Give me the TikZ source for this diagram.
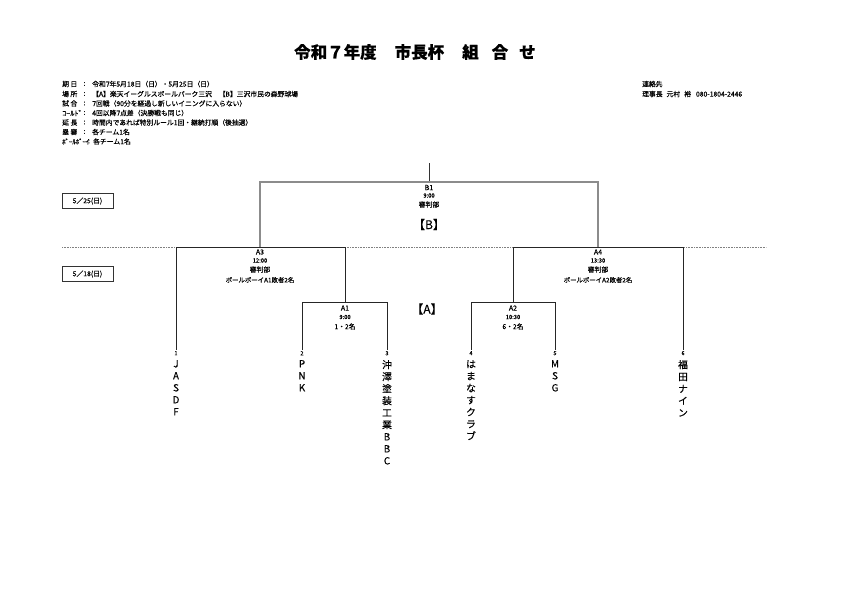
\documentclass[tikz,border=0pt]{standalone}
\usepackage{fontspec}
\setmainfont{Noto Sans CJK JP}[FakeBold=0.3]
\newcommand{\fs}[1]{\fontsize{#1}{#1}\selectfont}
\tikzset{
  txt/.style={inner sep=0pt, text=black},
  info/.style={txt, anchor=west, font=\fs{6.8}},
  colon/.style={txt, font=\fs{6.8}},
  mlabel/.style={txt, font=\fs{7}},
  mtime/.style={txt, font=\fs{5.8}},
  mref/.style={txt, font=\fs{6.8}},
  mball/.style={txt, font=\fs{6.4}},
  venue/.style={txt, font=\fs{12}},
  datebox/.style={draw=black!80, line width=0.6pt, minimum width=51pt, minimum height=15.5pt, inner sep=0pt, font=\fs{6.8}},
  tnum/.style={txt, font=\fs{5.6}, anchor=north},
  tname/.style={txt, anchor=north, align=center, font=\fontsize{9.8}{12}\selectfont},
  bline/.style={draw=black!85, line width=0.8pt},
  gline/.style={draw=black!45, line width=1.3pt},
}
\begin{document}
\begin{tikzpicture}[x=1pt,y=-1pt]
\useasboundingbox[fill=white] (0,0) rectangle (842,595);

% title
\node[txt, anchor=west, font=\fs{16.5}\bfseries] (title) at (294,52)
  {令和７年度\hspace{18pt}市長杯\hspace{18pt}組\hspace{13pt}合\hspace{11pt}せ};

% info block
\node[info] (l1) at (62,84) {期\hspace{1.5pt}日};
\node[info] (l2) at (62,94) {場\hspace{1.5pt}所};
\node[info] (l3) at (62,103.5) {試\hspace{1.5pt}合};
\node[info] (l4) at (62,113) {\scalebox{1.2}[1]{ｺｰﾙﾄﾞ}};
\node[info] (l5) at (62,122.5) {延\hspace{1.5pt}長};
\node[info] (l6) at (62,132) {塁\hspace{1.5pt}審};
\node[info] (l7) at (62,141.5) {ﾎﾞｰﾙﾎﾞｰｲ};
\foreach \y in {84,94,103.5,113,122.5,132}{\node[colon] at (84.5,\y) {:};}
\node[colon] at (89,141.5) {:};
\node[info] (v1) at (92,84) {令和7年5月18日（日）・5月25日（日）};
\node[info] (v2) at (92,94) {【A】楽天イーグルスボールパーク三沢　【B】三沢市民の森野球場};
\node[info] (v3) at (92,103.5) {7回戦（90分を経過し新しいイニングに入らない）};
\node[info] (v4) at (92,113) {4回以降7点差（決勝戦も同じ）};
\node[info] (v5) at (92,122.5) {時間内であれば特別ルール1回・継続打順（後抽選）};
\node[info] (v6) at (92,132) {各チーム1名};
\node[info] (v7) at (93,141.5) {各チーム1名};

% contact
\node[info] (c1) at (642,84) {連絡先};
\node[info] (c2) at (642,94) {理事長\hspace{4pt}元村\hspace{4pt}裕\hspace{5pt}080-1804-2446};

% date boxes
\node[datebox] (d1) at (87.5,201) {5／25(日)};
\node[datebox] (d2) at (87.5,274) {5／18(日)};

% dotted separator
\coordinate (sepL) at (62,247);
\coordinate (sepR) at (766,247);
\draw[black!50, line width=0.6pt, dash pattern=on 0.8pt off 0.8pt] (sepL) -- (sepR);

% bracket coordinates
\coordinate (top) at (429,163);
\coordinate (b1) at (429,182);
\coordinate (b1l) at (260,182);
\coordinate (b1r) at (598,182);
\coordinate (a3) at (260,247);
\coordinate (a4) at (598,247);
\coordinate (a3l) at (176,247);
\coordinate (a3r) at (345,247);
\coordinate (a4l) at (513,247);
\coordinate (a4r) at (683,247);
\coordinate (a1) at (345,302);
\coordinate (a1l) at (302,302);
\coordinate (a1r) at (387,302);
\coordinate (a2) at (513,302);
\coordinate (a2l) at (471,302);
\coordinate (a2r) at (555,302);

% team numbers and names
\node[tnum] (n1) at (176,351) {1};
\node[tnum] (n2) at (302,351) {2};
\node[tnum] (n3) at (387,351) {3};
\node[tnum] (n4) at (471,351) {4};
\node[tnum] (n5) at (555,351) {5};
\node[tnum] (n6) at (683,351) {6};
\node[tname] (t1) at (176,360) {J\\A\\S\\D\\F};
\node[tname] (t2) at (302,360) {P\\N\\K};
\node[tname] (t3) at (387,360) {沖\\澤\\塗\\装\\工\\業\\B\\B\\C};
\node[tname] (t4) at (471,360) {は\\ま\\な\\す\\ク\\ラ\\ブ};
\node[tname] (t5) at (555,360) {M\\S\\G};
\node[tname] (t6) at (683,360) {福\\田\\ナ\\イ\\ン};

% B bracket (gray)
\draw[black!80, line width=0.8pt] (top) -- (b1);
\draw[gline] (a3) -- (b1l) -- (b1r) -- (a4);

% A brackets
\draw[bline, shorten <=1.5pt] (n1.north) -- (a3l) -- (a3r) -- (a1);
\draw[bline, shorten <=1.5pt] (n6.north) -- (a4r) -- (a4l) -- (a2);
\draw[bline, shorten <=1.5pt, shorten >=1.5pt] (n2.north) -- (a1l) -- (a1r) -- (n3.north);
\draw[bline, shorten <=1.5pt, shorten >=1.5pt] (n4.north) -- (a2l) -- (a2r) -- (n5.north);

% match labels
\node[mlabel] (B1) at (429,187.5) {B1};
\node[mtime] at (429,195.5) {9:00};
\node[mref] at (429,204.5) {審判部};
\node[venue] (VB) at (429,224.5) {【B】};

\node[mlabel] (A3) at (260,252) {A3};
\node[mtime] at (260,260.5) {12:00};
\node[mref] at (260,269.5) {審判部};
\node[mball] at (260,280) {ボールボーイA1敗者2名};

\node[mlabel] (A4) at (598,252) {A4};
\node[mtime] at (598,260.5) {13:30};
\node[mref] at (598,269.5) {審判部};
\node[mball] at (598,280) {ボールボーイA2敗者2名};

\node[mlabel] (A1) at (345,308) {A1};
\node[mtime] at (345,317) {9:00};
\node[mref] at (345,326.5) {1・2名};

\node[mlabel] (A2) at (513,308) {A2};
\node[mtime] at (513,317) {10:30};
\node[mref] at (513,326.5) {6・2名};

\node[venue] (VA) at (427,309) {【A】};
\end{tikzpicture}
\end{document}
